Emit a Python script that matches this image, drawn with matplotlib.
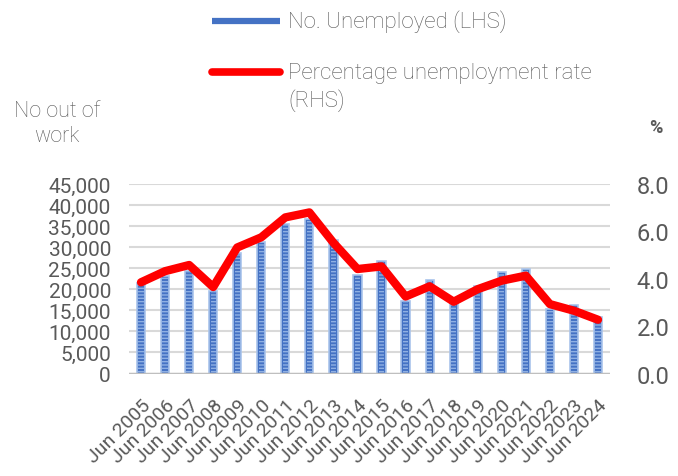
import matplotlib
matplotlib.use("Agg")
import matplotlib.pyplot as plt
from matplotlib.lines import Line2D
from matplotlib.ticker import FuncFormatter
import numpy as np

years = list(range(2005, 2025))
categories = [f"Jun {y}" for y in years]
unemployed = [21500, 23100, 24300, 19700, 28500, 31200, 35500, 36600, 31600, 23500,
              26600, 17300, 22100, 16900, 20700, 24100, 24900, 15300, 16300, 13500]
rate = [3.85, 4.32, 4.58, 3.65, 5.32, 5.75, 6.59, 6.80, 5.52, 4.41,
        4.52, 3.25, 3.68, 3.03, 3.56, 3.92, 4.13, 2.93, 2.65, 2.27]
left_ticks = [0, 5000, 10000, 15000, 20000, 25000, 30000, 35000, 40000, 45000]
right_ticks = [0, 2, 4, 6, 8]

TXT = "#595959"
FONT = ["Roboto", "DejaVu Sans"]
plt.rcParams['font.family'] = FONT

fig = plt.figure(figsize=(6.78, 4.77), dpi=100)
ax = fig.add_axes([129/678, 1-374.5/477, (610-129)/678, (374.5-185)/477])
ax2 = ax.twinx()

x = np.arange(len(categories))
ax.bar(x, unemployed, width=0.34, color="#4472C4", edgecolor="#A9C4EB", linewidth=1.2, zorder=3)
ax.bar(x, unemployed, width=0.22, fill=False, edgecolor="#8FB0E3", hatch="-----", linewidth=0, zorder=4)

ax2.plot(x, rate, color="#FF0000", linewidth=6, solid_capstyle="round", solid_joinstyle="round", zorder=5)

ax.set_xlim(-0.5, len(categories) - 0.5)
ax.set_ylim(0, 45000)
ax2.set_ylim(0, 8)
ax.set_yticks(left_ticks)
ax2.set_yticks(right_ticks)
ax.yaxis.set_major_formatter(FuncFormatter(lambda v, p: f"{int(v):,}"))
ax2.yaxis.set_major_formatter(FuncFormatter(lambda v, p: f"{v:.1f}"))

ax.grid(axis="y", color="#D9D9D9", linewidth=1.5, zorder=0)
ax.set_axisbelow(True)
for a in (ax, ax2):
    for s in a.spines.values():
        s.set_visible(False)
ax.axhline(0, color="#BFBFBF", linewidth=2.5, zorder=6)

ax.tick_params(axis="y", length=0, pad=13, labelsize=15, labelcolor=TXT)
ax2.tick_params(axis="y", length=0, pad=19, labelsize=17, labelcolor=TXT)
ax.set_xticks(x)
ax.set_xticklabels(categories, rotation=45, ha="right", rotation_mode="anchor",
                   fontsize=14, color=TXT)
ax.tick_params(axis="x", length=0, pad=16)
ax2.set_zorder(ax.get_zorder() + 1)

fig.text(57/678, 1-124/477, "No out of\nwork", ha="center", va="center", fontsize=15.5,
         color=TXT, linespacing=1.2, fontweight="light")
fig.text(656/678, 1-128/477, "%", ha="center", va="center", fontsize=13, color=TXT,
         fontweight="bold")

# legend
fig.add_artist(Line2D([212/678, 280/678], [1-22/477, 1-22/477], color="#4472C4", linewidth=4.5,
                      solid_capstyle="butt", transform=fig.transFigure))
fig.text(288/678, 1-22/477, "No. Unemployed (LHS)", ha="left", va="center", fontsize=16,
         color=TXT, fontweight="light")
fig.add_artist(Line2D([212/678, 280/678], [1-73/477, 1-73/477], color="#FF0000", linewidth=5.5,
                      solid_capstyle="round", transform=fig.transFigure))
fig.text(288/678, 1-74/477, "Percentage unemployment rate", ha="left", va="center", fontsize=16,
         color=TXT, fontweight="light")
fig.text(288/678, 1-101/477, "(RHS)", ha="left", va="center", fontsize=16, color=TXT,
         fontweight="light")

fig.savefig("out.png", dpi=100)
